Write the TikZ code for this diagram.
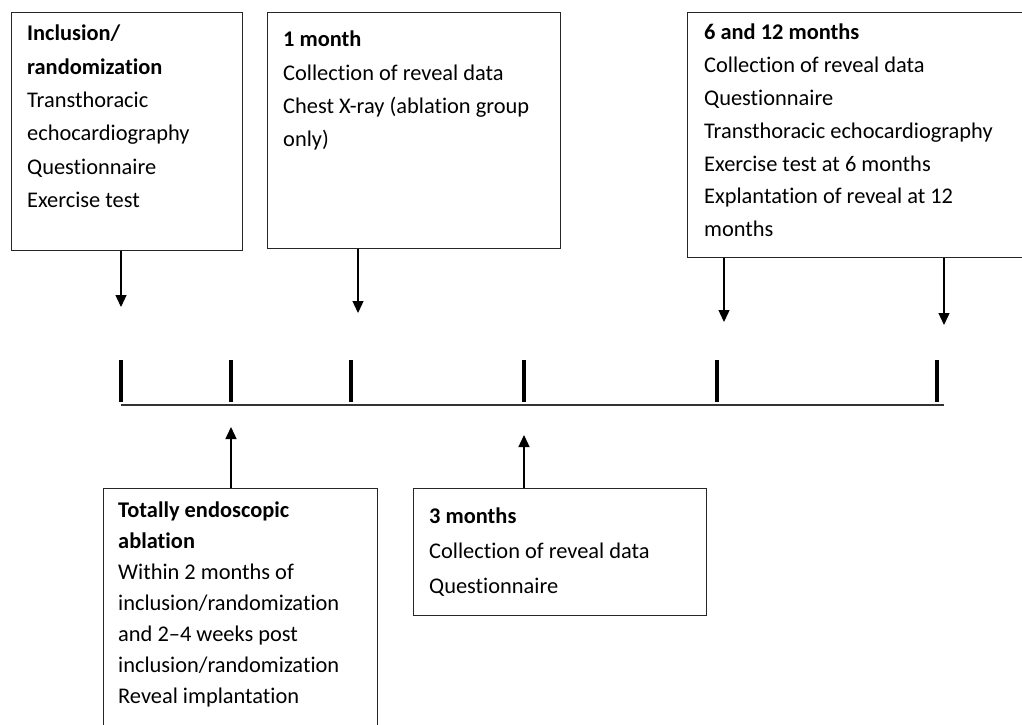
\documentclass[tikz,border=0pt]{standalone}
\usepackage{fontspec}
\setmainfont{Carlito}[Ligatures=NoCommon]
\usetikzlibrary{arrows.meta,calc}
\tikzset{
  boxframe/.style={draw=black!85, line width=1.3pt, rectangle, inner sep=0pt, anchor=north west},
  txt/.style={anchor=base west, inner sep=0pt},
  arr/.style={draw=black, line width=1.3pt, -{Triangle[width=11pt,length=12pt]}},
  tickmark/.style={draw=black, line width=3.5pt},
  axis/.style={draw=black!80, line width=1.6pt},
}
\newcommand{\boxtext}[2]{\parbox[t]{340pt}{\fontsize{22.4}{#1}\selectfont\raggedright #2}}
\begin{document}
\begin{tikzpicture}[x=1pt,y=-1pt]
\useasboundingbox (0,0) rectangle (1022,725);
% boxes
\node[boxframe, minimum width=231pt, minimum height=238pt] (b1) at (11,12) {};
\node[boxframe, minimum width=293pt, minimum height=236pt] (b2) at (267,12) {};
\node[boxframe, minimum width=350pt, minimum height=245pt] (b3) at (687,12) {};
\node[boxframe, minimum width=274pt, minimum height=262pt] (b4) at (103,488) {};
\node[boxframe, minimum width=293pt, minimum height=127pt] (b5) at (413,488) {};
% texts
\node[txt] (t1) at (27,41) {\boxtext{33.3pt}{\textbf{Inclusion/}\\\textbf{randomization}\\Transthoracic\\echocardiography\\Questionnaire\\Exercise test}};
\node[txt] (t2) at (283,47) {\boxtext{33.3pt}{\textbf{1 month}\\Collection of reveal data\\Chest X-ray (ablation group\\only)}};
\node[txt] (t3) at (704,40) {\boxtext{32.8pt}{\textbf{6 and 12 months}\\Collection of reveal data\\Questionnaire\\Transthoracic echocardiography\\Exercise test at 6 months\\Explantation of reveal at 12\\months}};
\node[txt] (t4) at (118,517) {\boxtext{31pt}{\textbf{Totally endoscopic}\\\textbf{ablation}\\Within 2 months of\\inclusion/randomization\\and 2--4 weeks post\\inclusion/randomization\\Reveal implantation}};
\node[txt] (t5) at (429,523) {\boxtext{35pt}{\textbf{3 months}\\Collection of reveal data\\Questionnaire}};
% timeline
\coordinate (k1) at (121,405);
\coordinate (k2) at (231,405);
\coordinate (k3) at (351,405);
\coordinate (k4) at (524,405);
\coordinate (k5) at (717,405);
\coordinate (k6) at (937,405);
\coordinate (kend) at (944,405);
\draw[axis] (k1) -- (kend);
\foreach \k in {k1,k2,k3,k4,k5,k6}{
  \draw[tickmark] ($(\k)+(0,-3)$) -- ($(\k)+(0,-45)$);
}
% arrow ends
\coordinate (a1) at (121,307);
\coordinate (a2) at (358,313);
\coordinate (a3) at (724,322);
\coordinate (a4) at (944,325);
\coordinate (u1) at (231,427);
\coordinate (u2) at (524,435);
\draw[arr] (b1.south -| a1) -- (a1);
\draw[arr] (b2.south -| a2) -- (a2);
\draw[arr] (b3.south -| a3) -- (a3);
\draw[arr] (b3.south -| a4) -- (a4);
\draw[arr] (b4.north -| u1) -- (u1);
\draw[arr] (b5.north -| u2) -- (u2);
\end{tikzpicture}
\end{document}
